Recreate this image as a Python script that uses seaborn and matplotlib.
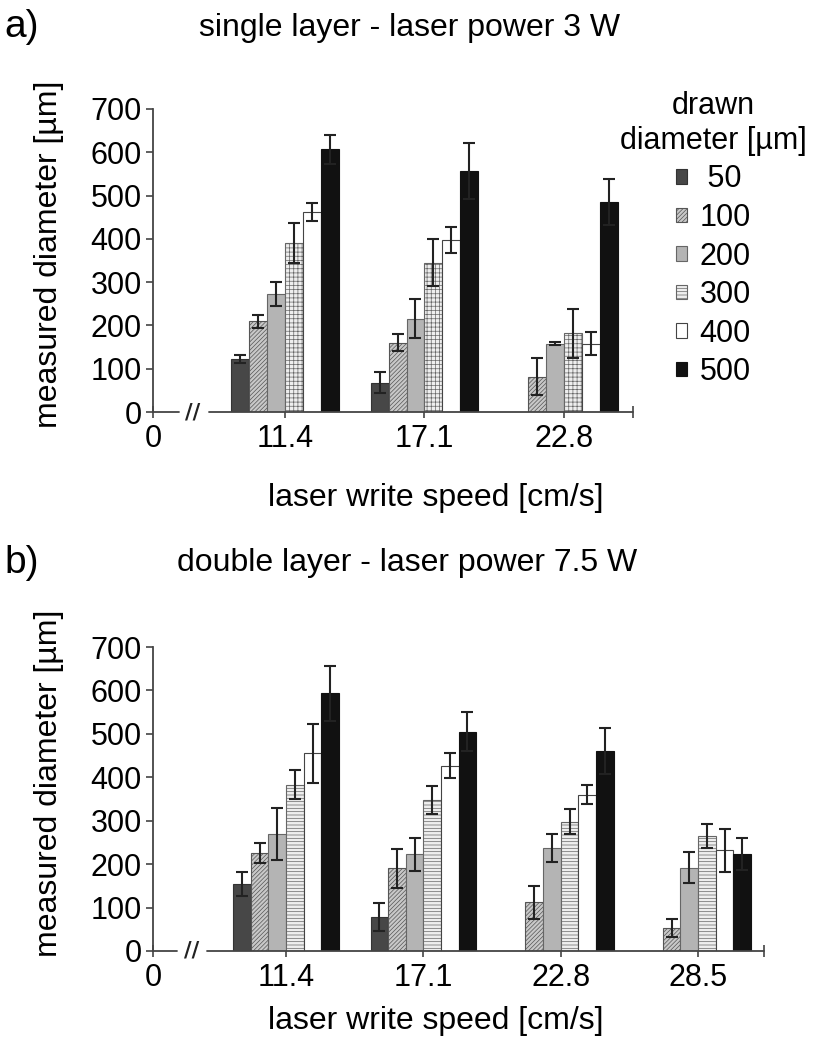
import matplotlib
matplotlib.use('Agg')
import matplotlib.pyplot as plt
import seaborn as sns
import pandas as pd
import numpy as np
from matplotlib.patches import Patch

# ------------------------------------------------------------
# Data
# ------------------------------------------------------------
DRAWN = ['50', '100', '200', '300', '400', '500']

speeds_a = ['11.4', '17.1', '22.8']
a_mean = {
    '50':  [122, 68, np.nan],
    '100': [210, 160, 82],
    '200': [272, 216, 158],
    '300': [390, 345, 182],
    '400': [462, 398, 158],
    '500': [607, 557, 485],
}
a_err = {
    '50':  [9, 25, np.nan],
    '100': [15, 20, 42],
    '200': [28, 44, 3],
    '300': [46, 55, 57],
    '400': [20, 30, 27],
    '500': [33, 65, 53],
}

speeds_b = ['11.4', '17.1', '22.8', '28.5']
b_mean = {
    '50':  [155, 79, np.nan, np.nan],
    '100': [225, 190, 112, 53],
    '200': [270, 223, 238, 192],
    '300': [383, 348, 298, 265],
    '400': [455, 427, 360, 232],
    '500': [593, 505, 460, 224],
}
b_err = {
    '50':  [28, 32, np.nan, np.nan],
    '100': [23, 46, 38, 20],
    '200': [60, 38, 32, 35],
    '300': [33, 33, 28, 28],
    '400': [68, 28, 22, 50],
    '500': [64, 45, 53, 37],
}

sns.set_style('white')
plt.rcParams['font.family'] = ['Liberation Sans', 'DejaVu Sans']
plt.rcParams['hatch.linewidth'] = 0.5
plt.rcParams['text.color'] = 'black'
plt.rcParams['axes.labelcolor'] = 'black'
plt.rcParams['xtick.labelcolor'] = 'black'
plt.rcParams['ytick.labelcolor'] = 'black'

AX_COL = '#444444'
TICK_FS = 22
LAB_FS = 23


def bar_style(level, hatch300):
    styles = {
        '50':  ('#474747', '', '#333333'),
        '100': ('#c8c8c8', '////////', '#555555'),
        '200': ('#b4b4b4', '', '#666666'),
        '300': ('#eeeeee', hatch300, '#666666'),
        '400': ('white', '', '#444444'),
        '500': ('#111111', '', '#111111'),
    }
    return styles[level]


def draw_panel(ax, speeds, means, errs, xlim, brk, hatch300):
    df = pd.DataFrame([(s, d, means[d][i]) for d in DRAWN for i, s in enumerate(speeds)],
                      columns=['speed', 'drawn', 'value'])
    df = df.dropna()
    sns.barplot(data=df, x='speed', y='value', hue='drawn', order=speeds,
                hue_order=DRAWN, errorbar=None, width=0.77, dodge=True,
                legend=False, ax=ax)

    for level, cont in zip(DRAWN, ax.containers):
        face, hatch, edge = bar_style(level, hatch300)
        for bar in cont:
            bar.set_facecolor(face)
            bar.set_edgecolor(edge)
            bar.set_linewidth(0.8)
            bar.set_hatch(hatch)
            h = bar.get_height()
            if np.isnan(h):
                continue
            xc = bar.get_x() + bar.get_width() / 2
            idx = int(round(xc))
            ax.errorbar(xc, h, yerr=errs[level][idx], fmt='none', ecolor='#222222',
                        elinewidth=1.5, capsize=4, capthick=1.5, zorder=5)

    ax.set_xlim(*xlim)
    ax.set_ylim(0, 700)
    ax.set_yticks(range(0, 701, 100))
    ax.set_xticks([xlim[0]] + list(range(len(speeds))))
    ax.set_xticklabels(['0'] + speeds)
    ax.set_xticks([xlim[1]], minor=True)
    ax.tick_params(axis='y', direction='out', length=5, width=1.2, color=AX_COL,
                   labelsize=TICK_FS, pad=3, left=True)
    ax.tick_params(axis='x', which='both', direction='inout', length=9, width=1.2,
                   color=AX_COL, labelsize=TICK_FS, pad=4, bottom=True)

    for sp in ['top', 'right', 'bottom']:
        ax.spines[sp].set_visible(False)
    ax.spines['left'].set_color(AX_COL)
    ax.spines['left'].set_linewidth(1.3)

    # x axis with a break after 0
    ax.plot([xlim[0], brk[0]], [0, 0], color=AX_COL, lw=1.3, clip_on=False, zorder=6)
    ax.plot([brk[2], xlim[1]], [0, 0], color=AX_COL, lw=1.3, clip_on=False, zorder=6)
    ax.text(brk[1], 0, '//', ha='center', va='center', fontsize=15, fontweight='bold',
            color='#222222', family='DejaVu Sans')

    ax.set_ylabel('measured diameter [\u00b5m]', fontsize=LAB_FS)
    ax.set_xlabel('laser write speed [cm/s]', fontsize=LAB_FS)
    ax.xaxis.label.set_va('center')
    ax.yaxis.label.set_va('center')


fig = plt.figure(figsize=(8.23, 10.5), dpi=100)
ax_a = fig.add_axes([0.1859, 0.6076, 0.5832, 0.2886])
ax_b = fig.add_axes([0.1859, 0.0943, 0.7424, 0.2895])

draw_panel(ax_a, speeds_a, a_mean, a_err, (-0.946, 2.495), (-0.76, -0.66, -0.547), '++++')
draw_panel(ax_b, speeds_b, b_mean, b_err, (-0.969, 3.48), (-0.794, -0.685, -0.575), '-----')

ax_a.xaxis.set_label_coords(0.59, -0.285)
ax_a.yaxis.set_label_coords(-0.217, 0.52)
ax_b.xaxis.set_label_coords(0.463, -0.23)
ax_b.yaxis.set_label_coords(-0.170, 0.55)

fig.text(0.005, 1 - 27 / 1050, 'a)', fontsize=28, va='center', ha='left')
fig.text(0.498, 1 - 28 / 1050, 'single layer - laser power 3 W', fontsize=LAB_FS,
         va='center', ha='center')
fig.text(0.005, 1 - 563 / 1050, 'b)', fontsize=28, va='center', ha='left')
fig.text(0.495, 1 - 563 / 1050, 'double layer - laser power 7.5 W', fontsize=LAB_FS,
         va='center', ha='center')

handles = []
for level in DRAWN:
    face, hatch, edge = bar_style(level, '-----')
    handles.append(Patch(facecolor=face, edgecolor=edge, hatch=hatch, linewidth=0.8))
labels = [' 50'] + DRAWN[1:]
leg = fig.legend(handles, labels, title='drawn\ndiameter [\u00b5m]', loc='upper right',
                 bbox_to_anchor=(0.999, 1 - 76 / 1050), frameon=False, fontsize=22,
                 title_fontsize=22, handlelength=0.35, handleheight=0.35,
                 handletextpad=0.4, labelspacing=0.28, borderpad=0)
leg.get_title().set_multialignment('center')

plt.savefig('out.png', dpi=100)
plt.close()
